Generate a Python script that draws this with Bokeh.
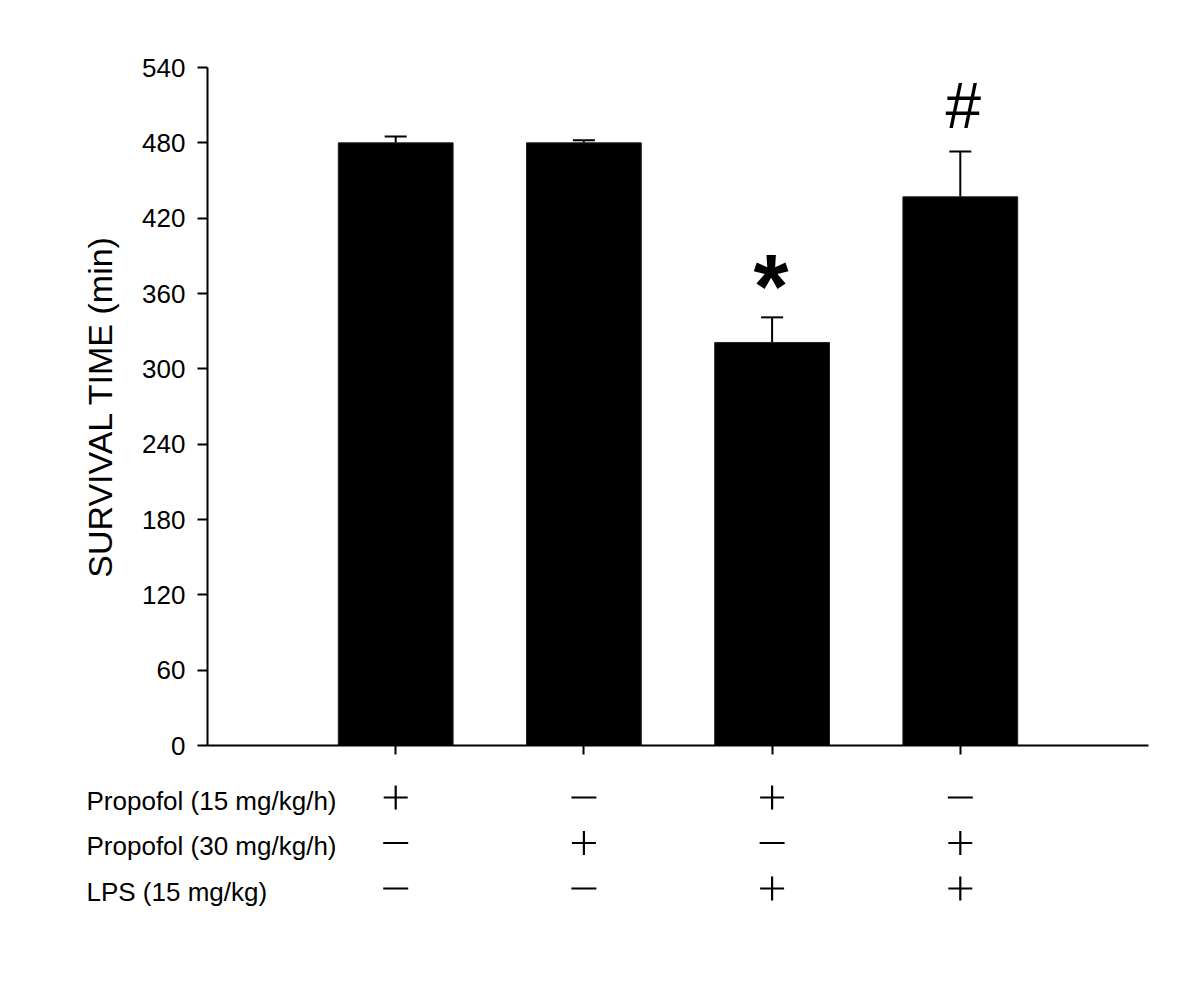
from bokeh.plotting import figure
from bokeh.models import ColumnDataSource, Range1d, FixedTicker, Whisker, TeeHead
from bokeh.core.properties import value
from bokeh.embed import file_html
from bokeh.resources import INLINE

# ---- data ----
groups = ["Propofol 15", "Propofol 30", "LPS + Propofol 15", "LPS + Propofol 30"]
survival = [480, 480, 321, 437]
sem = [5, 2, 20, 36]
marks = ["", "", "*", "#"]
y_ticks = [0, 60, 120, 180, 240, 300, 360, 420, 480, 540]
row_labels = ["Propofol (15 mg/kg/h)", "Propofol (30 mg/kg/h)", "LPS (15 mg/kg)"]
propofol15 = ["+", "-", "+", "-"]
propofol30 = ["-", "+", "-", "+"]
lps = ["-", "-", "+", "+"]

FONT = "Liberation Sans"
W = 1184
LEFT, RIGHT = 207, 36
H1 = 778
xs = [i + 1 for i in range(len(groups))]
x_end = len(groups) + 1

src = ColumnDataSource(dict(x=xs, y=survival, sem=sem,
                            top=[v + s for v, s in zip(survival, sem)]))

p = figure(width=W, height=H1, output_backend="svg", toolbar_location=None,
           x_range=Range1d(0, x_end), y_range=Range1d(0, 540),
           min_border_left=LEFT, min_border_right=RIGHT,
           min_border_top=67, min_border_bottom=33)
p.outline_line_color = None
p.xgrid.visible = False
p.ygrid.visible = False
p.background_fill_color = "white"

p.vbar(x="x", top="y", bottom=0, width=0.61, source=src,
       fill_color="black", line_color="#222222", line_width=1)

w = Whisker(base="x", lower="y", upper="top", source=src,
            line_color="black", line_width=2,
            upper_head=TeeHead(size=22, line_color="black", line_width=2),
            lower_head=None)
p.add_layout(w)

# significance marks
star_i = [i for i in range(len(marks)) if marks[i] == "*"]
hash_i = [i for i in range(len(marks)) if marks[i] == "#"]
msrc_star = ColumnDataSource(dict(x=[xs[i] for i in star_i],
                                  y=[survival[i] + sem[i] for i in star_i],
                                  t=[marks[i] for i in star_i]))
msrc_hash = ColumnDataSource(dict(x=[xs[i] for i in hash_i],
                                  y=[survival[i] + sem[i] for i in hash_i],
                                  t=[marks[i] for i in hash_i]))
p.text(x="x", y="y", text="t", source=msrc_star, text_font=value(FONT),
       text_font_style="bold", text_font_size="90px", text_align="center",
       text_baseline="alphabetic", y_offset=-30, x_offset=-1, text_color="black")
p.text(x="x", y="y", text="t", source=msrc_hash, text_font=value(FONT),
       text_font_size="64px", text_align="center",
       text_baseline="alphabetic", y_offset=-46, x_offset=3, text_color="black")

# axes
ya = p.yaxis[0]
ya.ticker = FixedTicker(ticks=y_ticks)
ya.axis_label = "SURVIVAL TIME (min)"
ya.axis_label_text_font = FONT
ya.axis_label_text_font_size = "34px"
ya.axis_label_text_font_style = "normal"
ya.axis_label_text_color = "black"
ya.axis_label_standoff = 20
ya.major_label_text_font = FONT
ya.major_label_text_font_size = "26px"
ya.major_label_text_color = "black"
ya.major_label_standoff = 12
ya.major_tick_out = 10
ya.major_tick_in = 0
ya.minor_tick_out = 0
ya.minor_tick_in = 0
ya.axis_line_width = 2
ya.major_tick_line_width = 2
ya.axis_line_color = "black"
ya.major_tick_line_color = "black"

xa = p.xaxis[0]
xa.ticker = FixedTicker(ticks=xs)
xa.major_label_text_font_size = "0px"
xa.major_label_text_color = None
xa.major_tick_out = 9
xa.major_tick_in = 0
xa.minor_tick_out = 0
xa.minor_tick_in = 0
xa.axis_line_width = 2
xa.major_tick_line_width = 2
xa.axis_line_color = "black"
xa.major_tick_line_color = "black"

# ---- treatment table below (separate root, full-width frame) ----
H2 = 207
frame_w = W - LEFT - RIGHT
ppu = frame_w / x_end
x0 = -LEFT / ppu
row_px = 45.5
top_px = 19
t = figure(width=W, height=H2, output_backend="svg", toolbar_location=None,
           x_range=Range1d(x0, x_end),
           y_range=Range1d(-top_px / row_px + H2 / row_px, -top_px / row_px),
           min_border_left=0, min_border_right=RIGHT, min_border_top=0,
           min_border_bottom=0)
t.outline_line_color = None
t.xaxis.visible = False
t.yaxis.visible = False
t.xgrid.visible = False
t.ygrid.visible = False

label_x = x0 + 86 / ppu
t.text(x=[label_x] * len(row_labels), y=list(range(len(row_labels))), text=row_labels,
       text_font=value(FONT), text_font_size="26px", text_baseline="middle",
       text_align="left", y_offset=3, text_color="black")

rows = [propofol15, propofol30, lps]
px, py, mx, my = [], [], [], []
for r, signs in enumerate(rows):
    for i, s in enumerate(signs):
        if s == "+":
            px.append(xs[i]); py.append(r)
        else:
            mx.append(xs[i]); my.append(r)
t.scatter(x=px, y=py, marker="cross", size=24, line_color="black", line_width=2.2)
t.scatter(x=mx, y=my, marker="dash", size=25, line_color="black", line_width=2.2)

open("out.html", "w").write(file_html([p, t], INLINE))
